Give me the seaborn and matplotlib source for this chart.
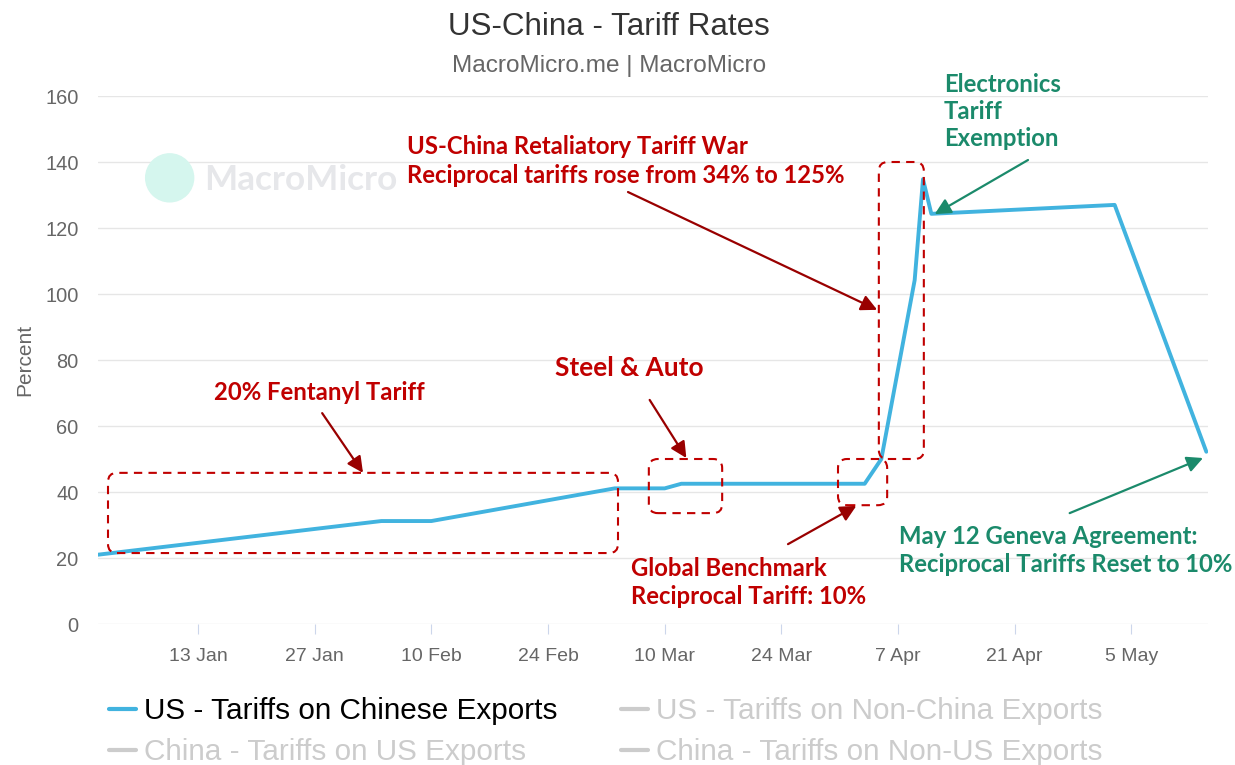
import matplotlib
matplotlib.use("Agg")
import matplotlib.pyplot as plt
import matplotlib.dates as mdates
from matplotlib.patches import FancyBboxPatch, Circle
from matplotlib.lines import Line2D
from matplotlib.transforms import IdentityTransform
import seaborn as sns
import pandas as pd

# ---------------- data ----------------
dates = ["2025-01-01", "2025-02-04", "2025-02-10", "2025-03-04", "2025-03-10",
         "2025-03-12", "2025-04-03", "2025-04-05", "2025-04-09", "2025-04-10",
         "2025-04-11", "2025-05-03", "2025-05-14"]
us_on_china = [21.0, 31.2, 31.2, 41.1, 41.1, 42.5, 42.5, 50.0, 104.2, 134.8,
               124.3, 127.0, 52.2]
series_labels = ["US - Tariffs on Chinese Exports", "US - Tariffs on Non-China Exports",
                 "China - Tariffs on US Exports", "China - Tariffs on Non-US Exports"]
y_ticks = [0, 20, 40, 60, 80, 100, 120, 140, 160]
x_tick_dates = ["2025-01-13", "2025-01-27", "2025-02-10", "2025-02-24", "2025-03-10",
                "2025-03-24", "2025-04-07", "2025-04-21", "2025-05-05"]

df = pd.DataFrame({"date": pd.to_datetime(dates), "value": us_on_china})

# ---------------- style ----------------
sns.set_theme(style="white")
plt.rcParams["font.family"] = ["Liberation Sans", "DejaVu Sans"]

BLUE = "#41b3df"
RED = "#c00000"
DRED = "#990000"
GREEN = "#1b8a6b"
GRID = "#e6e6e6"

fig = plt.figure(figsize=(12.35, 7.65), dpi=100)
ax = fig.add_axes([98 / 1235, 1 - 624 / 765, 1110 / 1235, 528 / 765])

sns.lineplot(data=df, x="date", y="value", ax=ax, color=BLUE, linewidth=2.8,
             label=series_labels[0], legend=False)

base = pd.Timestamp("2025-01-01")


def d(days):
    return mdates.date2num(base + pd.Timedelta(days=days))


ax.set_xlim(d(0), d(133.2))
ax.set_ylim(0, 160)
ax.set_yticks(y_ticks)
ax.set_xticks([mdates.date2num(pd.Timestamp(t)) for t in x_tick_dates])
ax.xaxis.set_major_formatter(mdates.DateFormatter("%-d %b"))
ax.grid(axis="y", color=GRID, linewidth=1)
ax.grid(axis="x", visible=False)
for s in ax.spines.values():
    s.set_visible(False)
ax.tick_params(axis="y", length=0, pad=14, labelsize=14.4, labelcolor="#666666")
ax.tick_params(axis="x", length=7, width=0.8, color="#ccd6eb", pad=10,
               labelsize=14, labelcolor="#666666", bottom=True)
ax.set_xlabel("")
ax.set_ylabel("Percent", fontsize=15, color="#666666")
ax.yaxis.set_label_coords(-0.057, 0.5)

# ---------------- title ----------------
fig.text(609 / 1235, 1 - 27 / 765, "US-China - Tariff Rates", ha="center", va="center",
         fontsize=22.6, color="#333333")
fig.text(609 / 1235, 1 - 66 / 765, "MacroMicro.me | MacroMicro", ha="center", va="center",
         fontsize=17.6, color="#666666")

# ---------------- watermark ----------------
fig.canvas.draw()
cx, cy = ax.transData.transform((d(8.6), 135.2))
fig.patches.append(Circle((cx, cy), 24, transform=IdentityTransform(), color="#d5f6ee",
                          zorder=0))
ax.text(d(12.7), 134.5, "MacroMicro", fontsize=25.3, color="#e6e7ea", ha="left",
        va="center", family="Lato", fontweight="bold", zorder=0)

# ---------------- dashed boxes ----------------
def dbox(x0, x1, y0, y1, color=RED):
    (X0, Y0) = ax.transData.transform((d(x0), y0))
    (X1, Y1) = ax.transData.transform((d(x1), y1))
    p = FancyBboxPatch((X0, Y0), X1 - X0, Y1 - Y0,
                       boxstyle="round,pad=0,rounding_size=9",
                       transform=IdentityTransform(), fill=False, edgecolor=color,
                       linewidth=1.5, linestyle=(0, (4, 3)), zorder=5)
    fig.patches.append(p)


dbox(1.2, 62.4, 21.5, 45.8)
dbox(66.1, 74.9, 33.6, 50.0)
dbox(88.8, 94.7, 36.0, 50.0)
dbox(93.7, 99.1, 50.0, 140.0)

# ---------------- annotations ----------------
afont = dict(family="Lato", fontweight="bold")
FS = 17.2


def arrow(x0, y0, x1, y1, color):
    ax.annotate("", xy=(d(x1), y1), xytext=(d(x0), y0),
                arrowprops=dict(arrowstyle="-|>", color=color, lw=1.6,
                                mutation_scale=24, shrinkA=0, shrinkB=0),
                annotation_clip=False, zorder=6)


ax.text(d(26.6), 70.0, "20% Fentanyl Tariff", color=RED, fontsize=FS, ha="center",
        va="center", **afont)
arrow(26.9, 63.9, 31.8, 45.8, DRED)

ax.text(d(63.8), 77.6, "Steel & Auto", color=RED, fontsize=18.9, ha="center",
        va="center", **afont)
arrow(66.2, 67.9, 70.6, 50.3, DRED)

ax.text(d(64.0), 12.6, "Global Benchmark\nReciprocal Tariff: 10%", color=RED,
        fontsize=FS, ha="left", va="center", linespacing=1.3, **afont)
arrow(82.8, 24.2, 91.0, 35.8, DRED)

ax.text(d(37.1), 140.3, "US-China Retaliatory Tariff War\nReciprocal tariffs rose from 34% to 125%",
        color=RED, fontsize=FS, ha="left", va="center", linespacing=1.3, **afont)
arrow(63.6, 130.9, 93.5, 95.2, DRED)

ax.text(d(101.5), 155.3, "Electronics\nTariff\nExemption", color=GREEN, fontsize=FS,
        ha="left", va="center", linespacing=1.2, clip_on=False, **afont)
arrow(111.6, 140.6, 100.4, 124.2, GREEN)

ax.text(d(96.1), 22.3, "May 12 Geneva Agreement:\nReciprocal Tariffs Reset to 10%",
        color=GREEN, fontsize=FS, ha="left", va="center", linespacing=1.3, **afont)
arrow(116.6, 33.6, 132.6, 50.3, GREEN)

# ---------------- legend ----------------
handles = [Line2D([], [], color=BLUE, lw=3)] + \
          [Line2D([], [], color="#cccccc", lw=3) for _ in range(3)]
order = [0, 2, 1, 3]
leg = fig.legend([handles[i] for i in order], [series_labels[i] for i in order],
                 ncol=2, loc="upper left", bbox_to_anchor=(109 / 1235, 1 - 697 / 765),
                 frameon=False, fontsize=21.4, handlelength=0.9, handletextpad=0.27,
                 columnspacing=2.15, labelspacing=0.44, borderpad=0, borderaxespad=0)
for txt, i in zip(leg.get_texts(), order):
    txt.set_color("#000000" if i == 0 else "#cccccc")

fig.savefig("out.png", dpi=100)
